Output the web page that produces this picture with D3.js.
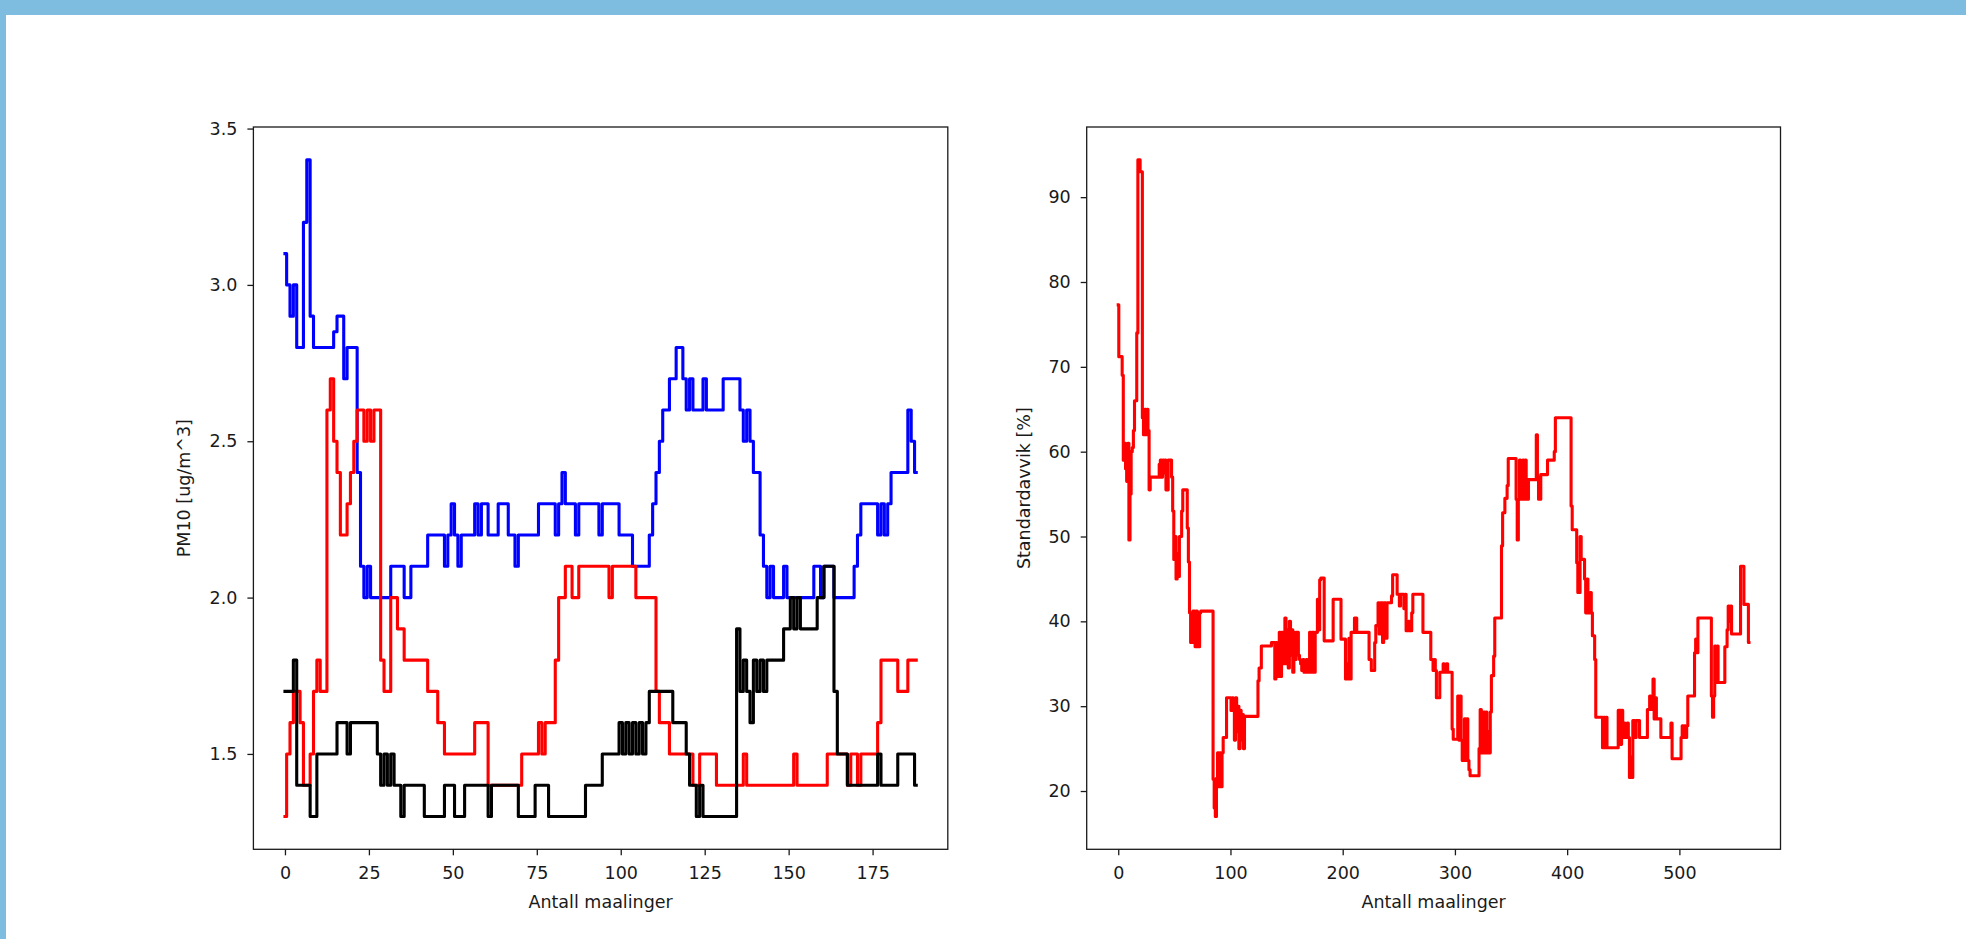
<!DOCTYPE html>
<html>
<head>
<meta charset="utf-8">
<script src="https://cdn.jsdelivr.net/npm/d3@7"></script>
<style>
  body { margin: 0; background: #fff; }
  svg { display: block; }
  text { font-family: "DejaVu Sans", sans-serif; fill: #1a1a1a; }
</style>
</head>
<body>
<div id="chart"></div>
<script>
// PM10 series (one value per measurement)
var pmBlue = [
  3.1, 3.0, 2.9, 3.0, 2.8, 2.8, 3.2, 3.4, 2.9, 2.8,
  2.8, 2.8, 2.8, 2.8, 2.8, 2.85, 2.9, 2.9, 2.7, 2.8,
  2.8, 2.8, 2.4, 2.1, 2.0, 2.1, 2.0, 2.0, 2.0, 2.0,
  2.0, 2.0, 2.1, 2.1, 2.1, 2.1, 2.0, 2.0, 2.1, 2.1,
  2.1, 2.1, 2.1, 2.2, 2.2, 2.2, 2.2, 2.2, 2.1, 2.2,
  2.3, 2.2, 2.1, 2.2, 2.2, 2.2, 2.2, 2.3, 2.2, 2.3,
  2.3, 2.2, 2.2, 2.2, 2.3, 2.3, 2.3, 2.2, 2.2, 2.1,
  2.2, 2.2, 2.2, 2.2, 2.2, 2.2, 2.3, 2.3, 2.3, 2.3,
  2.3, 2.2, 2.3, 2.4, 2.3, 2.3, 2.3, 2.2, 2.3, 2.3,
  2.3, 2.3, 2.3, 2.3, 2.2, 2.3, 2.3, 2.3, 2.3, 2.3,
  2.2, 2.2, 2.2, 2.2, 2.1, 2.1, 2.1, 2.1, 2.1, 2.2,
  2.3, 2.4, 2.5, 2.6, 2.6, 2.7, 2.7, 2.8, 2.8, 2.7,
  2.6, 2.7, 2.6, 2.6, 2.6, 2.7, 2.6, 2.6, 2.6, 2.6,
  2.6, 2.7, 2.7, 2.7, 2.7, 2.7, 2.6, 2.5, 2.6, 2.5,
  2.4, 2.4, 2.2, 2.1, 2.0, 2.1, 2.0, 2.0, 2.0, 2.1,
  2.0, 2.0, 2.0, 2.0, 2.0, 2.0, 2.0, 2.0, 2.1, 2.1,
  2.0, 2.1, 2.1, 2.1, 2.0, 2.0, 2.0, 2.0, 2.0, 2.0,
  2.1, 2.2, 2.3, 2.3, 2.3, 2.3, 2.3, 2.2, 2.3, 2.2,
  2.3, 2.4, 2.4, 2.4, 2.4, 2.4, 2.6, 2.5, 2.4
];
var pmRed = [
  1.3, 1.5, 1.6, 1.7, 1.7, 1.6, 1.4, 1.4, 1.5, 1.7,
  1.8, 1.7, 1.7, 2.6, 2.7, 2.5, 2.4, 2.2, 2.2, 2.3,
  2.4, 2.5, 2.6, 2.6, 2.5, 2.6, 2.5, 2.6, 2.6, 1.8,
  1.7, 1.7, 2.0, 2.0, 1.9, 1.9, 1.8, 1.8, 1.8, 1.8,
  1.8, 1.8, 1.8, 1.7, 1.7, 1.7, 1.6, 1.6, 1.5, 1.5,
  1.5, 1.5, 1.5, 1.5, 1.5, 1.5, 1.5, 1.6, 1.6, 1.6,
  1.6, 1.4, 1.4, 1.4, 1.4, 1.4, 1.4, 1.4, 1.4, 1.4,
  1.4, 1.5, 1.5, 1.5, 1.5, 1.5, 1.6, 1.5, 1.6, 1.6,
  1.6, 1.8, 2.0, 2.0, 2.1, 2.1, 2.0, 2.0, 2.1, 2.1,
  2.1, 2.1, 2.1, 2.1, 2.1, 2.1, 2.1, 2.0, 2.1, 2.1,
  2.1, 2.1, 2.1, 2.1, 2.1, 2.0, 2.0, 2.0, 2.0, 2.0,
  2.0, 1.7, 1.6, 1.6, 1.6, 1.5, 1.5, 1.5, 1.5, 1.5,
  1.5, 1.5, 1.4, 1.4, 1.5, 1.5, 1.5, 1.5, 1.5, 1.4,
  1.4, 1.4, 1.4, 1.4, 1.4, 1.4, 1.4, 1.5, 1.4, 1.4,
  1.4, 1.4, 1.4, 1.4, 1.4, 1.4, 1.4, 1.4, 1.4, 1.4,
  1.4, 1.4, 1.5, 1.4, 1.4, 1.4, 1.4, 1.4, 1.4, 1.4,
  1.4, 1.4, 1.5, 1.5, 1.5, 1.5, 1.5, 1.5, 1.4, 1.5,
  1.5, 1.4, 1.5, 1.5, 1.5, 1.5, 1.5, 1.6, 1.8, 1.8,
  1.8, 1.8, 1.8, 1.7, 1.7, 1.7, 1.8, 1.8, 1.8
];
var pmBlack = [
  1.7, 1.7, 1.7, 1.8, 1.4, 1.4, 1.4, 1.4, 1.3, 1.3,
  1.5, 1.5, 1.5, 1.5, 1.5, 1.5, 1.6, 1.6, 1.6, 1.5,
  1.6, 1.6, 1.6, 1.6, 1.6, 1.6, 1.6, 1.6, 1.5, 1.4,
  1.5, 1.4, 1.5, 1.4, 1.4, 1.3, 1.4, 1.4, 1.4, 1.4,
  1.4, 1.4, 1.3, 1.3, 1.3, 1.3, 1.3, 1.3, 1.4, 1.4,
  1.4, 1.3, 1.3, 1.3, 1.4, 1.4, 1.4, 1.4, 1.4, 1.4,
  1.4, 1.3, 1.4, 1.4, 1.4, 1.4, 1.4, 1.4, 1.4, 1.4,
  1.3, 1.3, 1.3, 1.3, 1.3, 1.4, 1.4, 1.4, 1.4, 1.3,
  1.3, 1.3, 1.3, 1.3, 1.3, 1.3, 1.3, 1.3, 1.3, 1.3,
  1.4, 1.4, 1.4, 1.4, 1.4, 1.5, 1.5, 1.5, 1.5, 1.5,
  1.6, 1.5, 1.6, 1.5, 1.6, 1.5, 1.6, 1.5, 1.6, 1.7,
  1.7, 1.7, 1.7, 1.7, 1.7, 1.7, 1.6, 1.6, 1.6, 1.6,
  1.5, 1.4, 1.4, 1.3, 1.4, 1.3, 1.3, 1.3, 1.3, 1.3,
  1.3, 1.3, 1.3, 1.3, 1.3, 1.9, 1.7, 1.8, 1.7, 1.6,
  1.8, 1.7, 1.8, 1.7, 1.8, 1.8, 1.8, 1.8, 1.8, 1.9,
  1.9, 2.0, 1.9, 2.0, 1.9, 1.9, 1.9, 1.9, 1.9, 2.0,
  2.0, 2.1, 2.1, 2.1, 1.7, 1.5, 1.5, 1.5, 1.4, 1.4,
  1.4, 1.4, 1.4, 1.4, 1.4, 1.4, 1.4, 1.5, 1.4, 1.4,
  1.4, 1.4, 1.4, 1.5, 1.5, 1.5, 1.5, 1.5, 1.4
];

// standard deviation [%]
var stdDev = [
  77.3, 71.2, 71.2, 71.2, 69, 59, 61, 58, 56.5, 61,
  49.6, 55, 60, 60.5, 62.5, 66, 66, 74, 94.4, 94.4,
  93, 93, 64, 62, 65, 62, 65, 62.5, 55.5, 57,
  57, 57, 57, 57, 57, 57, 57, 58.5, 59, 57,
  59, 57.5, 59, 55.5, 55.5, 59, 59, 59, 57, 53,
  47.3, 50, 45, 48, 45.3, 50, 50, 53, 55.5, 55.5,
  55.5, 55.5, 51, 47, 41, 37.5, 37.5, 41.2, 41.2, 37,
  41.2, 37, 37, 41, 41.2, 41.2, 41.2, 41.2, 41.2, 41.2,
  41.2, 41.2, 41.2, 41.2, 41.2, 21.4, 18, 17, 21.5, 24.5,
  20.5, 24.5, 20.5, 24.5, 26.3, 26.3, 26.3, 31, 31, 31,
  31, 29.5, 31, 29.6, 26, 31, 27, 30, 25, 29.5,
  26, 29, 25, 28.8, 28.8, 28.8, 28.8, 28.8, 28.8, 28.8,
  28.8, 28.8, 28.8, 28.8, 28.8, 33, 34.5, 34.5, 37.1, 37.1,
  37.1, 37.1, 37.1, 37.1, 37.1, 37.1, 37.1, 37.5, 37.5, 37.5,
  33.2, 37.5, 33.5, 37.5, 38.7, 33.5, 38.7, 36, 35, 40.4,
  35, 39, 34.5, 40, 36, 39, 34, 38.7, 35.5, 38.7,
  38.7, 36, 35.5, 35, 34.2, 35.5, 34, 34, 35.5, 34,
  34, 38.7, 34, 38.7, 38.7, 34, 38.7, 38.7, 42.6, 39,
  44.9, 45.1, 45.1, 45.1, 37.7, 37.7, 37.7, 37.7, 37.7, 37.7,
  37.7, 37.7, 42.6, 42.6, 42.6, 42.6, 42.6, 42.6, 42.6, 37.9,
  37.9, 37.9, 37.9, 33.2, 35, 33.2, 38, 33.2, 38.7, 38.7,
  38.7, 40.4, 40.4, 38.7, 38.7, 38.7, 38.7, 38.7, 38.7, 38.7,
  38.7, 38.7, 38.7, 38.7, 35.5, 35.5, 34.2, 34.2, 34.2, 37.5,
  39.5, 39.5, 42.2, 38.5, 42.2, 42.2, 37.5, 42.2, 42.2, 38,
  42.2, 42.2, 42.2, 42.2, 43, 45.5, 45.5, 45.5, 45.5, 43.2,
  43.2, 41.8, 43.2, 43.2, 43.2, 41.5, 43.2, 38.9, 38.9, 40,
  38.9, 38.9, 41, 43.2, 43.2, 43.2, 43.2, 43.2, 43.2, 43.2,
  43.2, 43.2, 38.7, 38.7, 38.7, 38.7, 38.7, 38.7, 38.7, 35.5,
  35.5, 34.2, 35.5, 34.2, 31, 31, 31, 34, 34, 34,
  35, 34, 34, 35, 34, 34, 34, 34, 27.3, 26.1,
  26.1, 26.1, 26.1, 31.2, 26, 31.2, 26, 23.6, 23.6, 28.5,
  23.6, 28.5, 23.6, 22.5, 21.8, 21.8, 21.8, 21.8, 21.8, 21.8,
  21.8, 21.8, 25, 29.6, 24.5, 24.5, 29.3, 24.5, 29.3, 24.5,
  27, 24.5, 29.3, 33.6, 33.6, 35.9, 40.4, 40.4, 40.4, 40.4,
  40.4, 40.4, 48.9, 52.8, 52.8, 54.5, 54.5, 56, 59.2, 59.2,
  59.2, 59.2, 59.2, 59.2, 59.2, 54.4, 49.6, 54.4, 59, 54.4,
  56.7, 59, 54.4, 59, 54.4, 54.4, 56.7, 56.7, 56.7, 56.7,
  56.7, 56.7, 56.7, 62, 57, 54.4, 54.4, 57.3, 57.3, 57.3,
  57.3, 57.3, 57.3, 59, 59, 59, 59, 59, 59, 60,
  64, 64, 64, 64, 64, 64, 64, 64, 64, 64,
  64, 64, 64, 64, 53.6, 50.8, 50.8, 50.8, 50.8, 46.9,
  43.4, 43.4, 50, 47.3, 47.3, 47.3, 45, 41, 45, 43.4,
  41, 43.4, 41, 38.3, 38.3, 35.5, 28.7, 28.7, 28.7, 28.7,
  28.7, 28.7, 25.1, 28.7, 25.1, 28.7, 25.1, 25.1, 25.1, 25.1,
  25.1, 25.1, 25.1, 25.1, 25.1, 25.1, 29.5, 29.5, 25.5, 29.5,
  26.3, 28, 26.3, 26.3, 28, 26.3, 21.6, 24, 21.6, 28.3,
  28.3, 26.3, 28.3, 28.3, 28.3, 26.3, 26.3, 26.3, 26.3, 26.3,
  26.3, 26.3, 29.6, 29.6, 31.2, 29.6, 31.2, 33.2, 28.5, 31,
  28.5, 28.5, 28.5, 28.5, 26.3, 26.3, 26.3, 26.3, 26.3, 26.3,
  26.3, 26.3, 26.3, 28, 23.8, 23.8, 23.8, 23.8, 23.8, 23.8,
  23.8, 23.8, 26.3, 27.7, 26.3, 27.7, 26.3, 27.7, 31.2, 31.2,
  31.2, 31.2, 31.2, 31.2, 36.3, 37.9, 36.3, 40.4, 40.4, 40.4,
  40.4, 40.4, 40.4, 40.4, 40.4, 40.4, 40.4, 40.4, 40.4, 31.2,
  28.7, 31.2, 37.1, 32.8, 37.1, 32.8, 32.8, 32.8, 32.8, 32.8,
  32.8, 37, 37, 39, 41.8, 40, 41.8, 38.5, 38.5, 38.5,
  38.5, 38.5, 38.5, 38.5, 38.5, 46.5, 46.5, 46.5, 42, 42,
  42, 42, 37.5
];

var leftXTicks = [0, 25, 50, 75, 100, 125, 150, 175];
var leftYTicks = [1.5, 2.0, 2.5, 3.0, 3.5];
var rightXTicks = [0, 100, 200, 300, 400, 500];
var rightYTicks = [20, 30, 40, 50, 60, 70, 80, 90];

var W = 1966, H = 939;
var top_ = 127, bottom = 849.3;
var fontSize = 17.5;

var svg = d3.select('#chart').append('svg')
    .attr('width', W)
    .attr('height', H);

svg.append('rect').attr('width', W).attr('height', H).attr('fill', '#fff');
// page frame
svg.append('rect').attr('x', 0).attr('y', 0).attr('width', W).attr('height', 15).attr('fill', '#7fbde0');
svg.append('rect').attr('x', 0).attr('y', 0).attr('width', 6).attr('height', H).attr('fill', '#7fbde0');

// matplotlib style 5% margin
function padded(ext) {
  var d = ext[1] - ext[0];
  return [ext[0] - 0.05 * d, ext[1] + 0.05 * d];
}

function drawPanel(cfg) {
  var x = d3.scaleLinear().domain(padded([0, cfg.n - 1])).range([cfg.x0, cfg.x1]);
  var y = d3.scaleLinear().domain(padded(cfg.yExt)).range([bottom, top_]);

  var g = svg.append('g');

  // readings change in steps, so draw them as steps
  var line = d3.line()
      .curve(d3.curveStep)
      .x(function(d, i) { return x(i); })
      .y(function(d) { return y(d); });

  cfg.series.forEach(function(s) {
    g.append('path')
        .datum(s.values)
        .attr('d', line)
        .attr('fill', 'none')
        .attr('stroke', s.color)
        .attr('stroke-width', 3.1)
        .attr('stroke-linejoin', 'round')
        .attr('stroke-linecap', 'square');
  });

  var xAxis = g.append('g')
      .attr('transform', `translate(0,${bottom})`)
      .call(d3.axisBottom(x).tickValues(cfg.xTicks).tickSize(6).tickPadding(11.5).tickSizeOuter(0));
  var yAxis = g.append('g')
      .attr('transform', `translate(${cfg.x0},0)`)
      .call(d3.axisLeft(y).tickValues(cfg.yTicks).tickFormat(cfg.yFormat).tickSize(6).tickPadding(10).tickSizeOuter(0));

  [xAxis, yAxis].forEach(function(a) {
    a.select('.domain').remove();
    a.selectAll('line').attr('stroke', '#1a1a1a').attr('stroke-width', 1.3);
    a.selectAll('text')
        .style('font-family', '"DejaVu Sans", sans-serif')
        .style('font-size', fontSize + 'px')
        .attr('fill', '#1a1a1a');
  });

  // spines
  g.append('rect')
      .attr('x', cfg.x0)
      .attr('y', top_)
      .attr('width', cfg.x1 - cfg.x0)
      .attr('height', bottom - top_)
      .attr('fill', 'none')
      .attr('stroke', '#1a1a1a')
      .attr('stroke-width', 1.3);

  g.append('text')
      .attr('x', (cfg.x0 + cfg.x1) / 2)
      .attr('y', 908.3)
      .attr('text-anchor', 'middle')
      .style('font-size', fontSize + 'px')
      .text('Antall maalinger');

  g.append('text')
      .attr('transform', `translate(${cfg.yLabelX},${(top_ + bottom) / 2})rotate(-90)`)
      .attr('text-anchor', 'middle')
      .style('font-size', fontSize + 'px')
      .text(cfg.yLabel);
}

drawPanel({
  x0: 253.4, x1: 947.8,
  n: pmBlue.length,
  yExt: [d3.min(pmBlue.concat(pmRed, pmBlack)), d3.max(pmBlue.concat(pmRed, pmBlack))],
  series: [
    {values: pmBlue, color: '#0000ff'},
    {values: pmRed, color: '#ff0000'},
    {values: pmBlack, color: '#000000'}
  ],
  xTicks: leftXTicks,
  yTicks: leftYTicks,
  yFormat: d3.format('.1f'),
  yLabel: 'PM10 [ug/m^3]',
  yLabelX: 189.5
});

drawPanel({
  x0: 1086.7, x1: 1780.5,
  n: stdDev.length,
  yExt: d3.extent(stdDev),
  series: [{values: stdDev, color: '#ff0000'}],
  xTicks: rightXTicks,
  yTicks: rightYTicks,
  yFormat: d3.format('d'),
  yLabel: 'Standardavvik [%]',
  yLabelX: 1029.5
});
</script>
</body>
</html>
